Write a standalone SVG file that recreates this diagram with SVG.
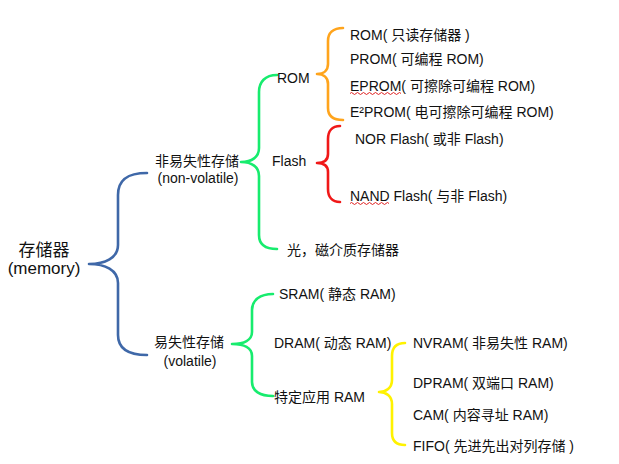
<svg xmlns="http://www.w3.org/2000/svg" width="619" height="464" viewBox="0 0 619 464">
<style>
text{font-family:"Liberation Sans","Noto Sans CJK SC",sans-serif;font-size:14px;fill:#111}
.big{font-size:17px}
.b{fill:none;stroke-width:2.6;stroke-linecap:round;stroke-linejoin:round}
.wave{fill:none;stroke:#e02020;stroke-width:1}
</style>
<rect width="619" height="464" fill="#fff"/>
<g id="connectors">
<path class="b" stroke="#3f68a8" d="M147,173 C127,173 118,180 118,195 L118,245 C118,258 105,264 89,264 C105,264 118,270 118,283 L118,335 C118,348 127,355 147,355"/>
<path class="b" stroke="#17ec6e" d="M277,75 C265,75 259,82 259,92 L259,148 C259,157 252,162 241,162 C252,162 259,167 259,176 L259,235 C259,244 265,249 277,249"/>
<path class="b" stroke="#ffa41c" d="M343,28 C333,28 328,33 328,41 L328,64 C328,70 324,74 317,74 C324,74 328,78 328,84 L328,108 C328,116 333,120 343,120"/>
<path class="b" stroke="#f01818" d="M340,126 C332,126 328,131 328,139 L328,154 C328,160 324,163 317,163 C324,163 328,166 328,172 L328,189 C328,197 332,202 340,202"/>
<path class="b" stroke="#17ec6e" d="M273,294 C260,294 252,300 252,310 L252,332 C252,340 244,344 232,344 C244,344 252,348 252,356 L252,382 C252,391 260,396 273,396"/>
<path class="b" stroke="#fff200" d="M405,343 C396,343 392,348 392,356 L392,380 C392,388 386,392 379,392 C386,392 392,396 392,404 L392,433 C392,441 396,445 405,445"/>
</g>
<g id="root"><text class="big" x="44" y="256" text-anchor="middle">存储器</text><text class="big" x="44" y="274" text-anchor="middle">(memory)</text></g>
<g id="nonvolatile"><text x="197" y="166" text-anchor="middle">非易失性存储</text><text x="198" y="183" text-anchor="middle">(non-volatile)</text></g>
<g id="volatile"><text x="189" y="347" text-anchor="middle">易失性存储</text><text x="190" y="366" text-anchor="middle">(volatile)</text></g>
<g id="rom"><text x="277" y="83">ROM</text></g>
<g id="flash"><text x="272" y="166">Flash</text></g>
<g id="optical"><text x="287" y="255">光，磁介质存储器</text></g>
<g id="rom1"><text x="350" y="40">ROM( 只读存储器 )</text></g>
<g id="prom"><text x="350" y="64">PROM( 可编程 ROM)</text></g>
<g id="eprom"><text x="350" y="91">EPROM( 可擦除可编程 ROM)</text>
<path class="wave" d="M350,93.5 q1.5,-2 3,0 t3,0 t3,0 t3,0 t3,0 t3,0 t3,0 t3,0 t3,0 t3,0 t3,0 t3,0 t3,0 t3,0 t3,0 t3,0 t3,0"/></g>
<g id="e2prom"><text x="350" y="117">E²PROM( 电可擦除可编程 ROM)</text></g>
<g id="nor"><text x="355" y="144">NOR Flash( 或非 Flash)</text></g>
<g id="nand"><text x="350" y="201">NAND Flash( 与非 Flash)</text>
<path class="wave" d="M350,203.5 q1.5,-2 3,0 t3,0 t3,0 t3,0 t3,0 t3,0 t3,0 t3,0 t3,0 t3,0 t3,0 t3,0 t3,0"/></g>
<g id="sram"><text x="279" y="299">SRAM( 静态 RAM)</text></g>
<g id="dram"><text x="274" y="348">DRAM( 动态 RAM)</text></g>
<g id="special"><text x="274" y="402">特定应用 RAM</text></g>
<g id="nvram"><text x="413" y="348">NVRAM( 非易失性 RAM)</text></g>
<g id="dpram"><text x="413" y="388">DPRAM( 双端口 RAM)</text></g>
<g id="cam"><text x="413" y="420">CAM( 内容寻址 RAM)</text></g>
<g id="fifo"><text x="413" y="451">FIFO( 先进先出对列存储 )</text></g>
</svg>
